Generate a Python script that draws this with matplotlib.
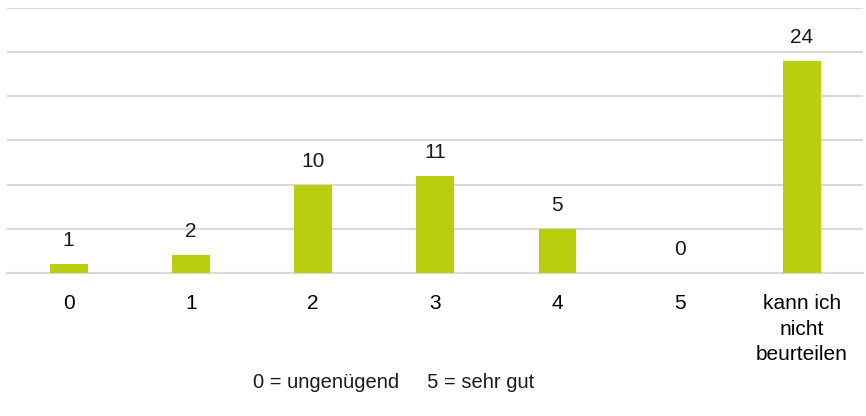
import matplotlib
matplotlib.use("Agg")
import matplotlib.pyplot as plt
from matplotlib import font_manager

categories = ["0", "1", "2", "3", "4", "5", "kann ich\nnicht\nbeurteilen"]
values = [1, 2, 10, 11, 5, 0, 24]
y_ticks = [0, 5, 10, 15, 20, 25, 30]
footer = "0 = ungenügend     5 = sehr gut"

names = {f.name for f in font_manager.fontManager.ttflist}
fam = ["Liberation Sans Narrow", "Liberation Sans", "DejaVu Sans"]
fam = [f for f in fam if f in names] or ["DejaVu Sans"]
plt.rcParams["font.family"] = fam

BAR = "#B9CE0C"
GRID = "#D9D9D9"
FS = 15

fig = plt.figure(figsize=(8.66, 4.16), dpi=100)
ax = fig.add_axes([7.5 / 866, 1 - 273 / 416, (863 - 7.5) / 866, (273 - 7.5) / 416])

x = list(range(len(categories)))
bars = ax.bar(x, values, width=0.31, color=BAR, zorder=3)
ax.set_xlim(-0.5, len(categories) - 0.5)
ax.set_ylim(y_ticks[0], y_ticks[-1])
ax.set_yticks(y_ticks)
ax.yaxis.grid(True, color=GRID, linewidth=1.5, zorder=0)
ax.tick_params(axis="y", length=0, labelleft=False)
ax.tick_params(axis="x", length=0, pad=15, labelsize=FS)
ax.set_xticks(x)
ax.set_xticklabels(categories, linespacing=1.45)
for s in ["top", "right", "left"]:
    ax.spines[s].set_visible(False)
ax.spines["bottom"].set_color(GRID)
ax.spines["bottom"].set_linewidth(1.5)

for xi, v in zip(x, values):
    ax.annotate(str(v), (xi, v), xytext=(0, 10), textcoords="offset points",
                ha="center", va="bottom", fontsize=FS, color="#1a1a1a")

fig.text(394 / 866, 1 - 382 / 416, footer, ha="center", va="center", fontsize=14.5, color="#1a1a1a")

fig.savefig("out.png", dpi=100)
